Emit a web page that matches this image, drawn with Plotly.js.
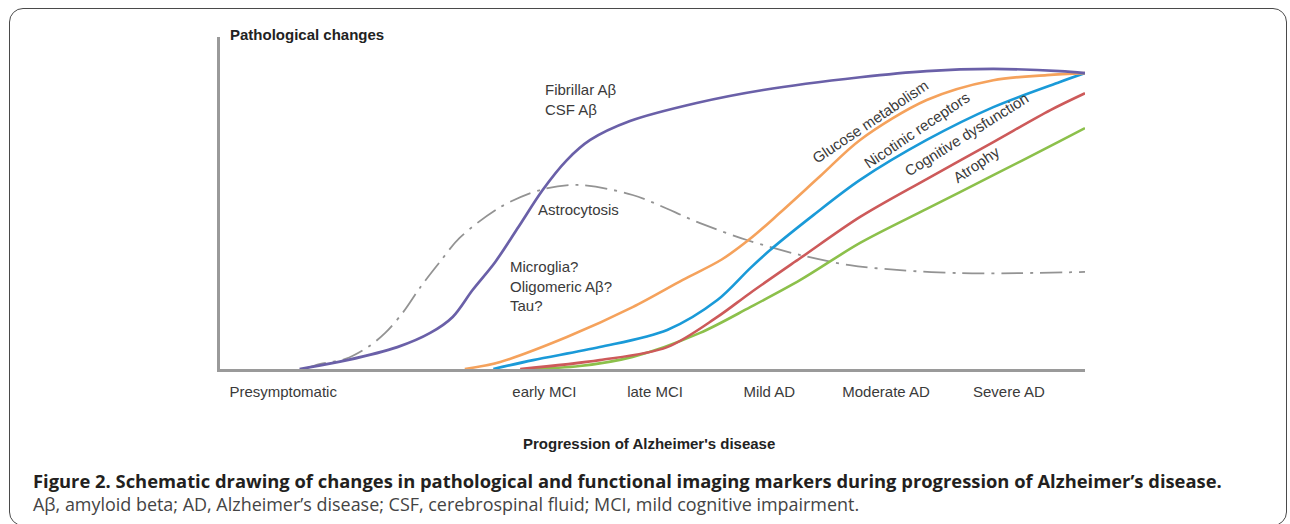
<!DOCTYPE html>
<html><head><meta charset="utf-8">
<script src="https://cdn.plot.ly/plotly-3.0.1.min.js"></script>
<style>
html,body{margin:0;padding:0;background:#fff;width:1290px;height:524px;overflow:hidden;}
#frame{position:absolute;left:9px;top:8px;width:1278px;height:518px;border:1px solid #4a4a4a;border-radius:14px;box-sizing:border-box;}
#chart{position:absolute;left:0;top:0;width:1290px;height:524px;}
</style></head><body>
<div id="frame"></div>
<div id="chart"></div>
<script>
// ---- data (x: disease progression, 0-100; y: degree of change, 0-100) ----
const fibrillarX = [9.2, 14.7, 20.5, 24.3, 26.9, 29.2, 31.8, 34.5, 37.3, 40.1, 42.8, 47.4, 55.1, 62.8, 74.0, 81.7, 89.4, 97.1, 100];
const fibrillarY = [0, 3.0, 7.4, 12.2, 17.6, 26.7, 36.1, 48.0, 60.5, 70.6, 77.4, 83.8, 89.9, 94.3, 98.6, 100.7, 101.4, 100.7, 100];

const astroX = [9.8, 11.6, 14.5, 17.1, 19.1, 21.2, 23.1, 25.4, 27.7, 32.4, 37.0, 41.3, 47.7, 55.5, 60.9, 67.1, 72.8, 78.6, 85.5, 92.5, 100];
const astroY = [0, 1.7, 3.4, 7.4, 12.2, 19.3, 27.4, 36.1, 44.3, 54.7, 60.5, 62.2, 58.8, 49.3, 43.6, 38.5, 35.1, 33.4, 32.4, 32.4, 32.8];

const glucoseX = [28.3, 32.4, 40.1, 47.7, 53.5, 58.0, 61.5, 64.7, 69.4, 74.0, 81.7, 89.4, 95.6, 100];
const glucoseY = [0, 2.4, 10.8, 20.9, 30.1, 37.0, 44.5, 52.7, 65.2, 77.4, 90.9, 97.6, 99.3, 100];

const nicotinicX = [31.6, 36.2, 43.9, 51.7, 57.5, 61.3, 63.6, 68.6, 74.0, 81.7, 89.4, 97.1, 100];
const nicotinicY = [0, 3.0, 7.4, 13.2, 23.3, 34.1, 40.2, 52.0, 63.9, 77.4, 88.5, 97.0, 100];

const cognitiveX = [34.7, 43.9, 51.7, 57.5, 61.3, 67.1, 74.0, 81.7, 89.4, 96.0, 100];
const cognitiveY = [0, 3.0, 7.4, 17.6, 25.7, 37.5, 51.4, 64.2, 76.7, 87.5, 93.2];

const atrophyX = [35.5, 41.6, 47.7, 55.5, 61.3, 67.1, 74.0, 81.7, 89.4, 97.1, 100];
const atrophyY = [0, 1.0, 4.1, 12.2, 20.9, 30.1, 42.6, 54.1, 65.5, 77.0, 81.4];

const tickVals = [7.3, 37.5, 50.3, 63.5, 77.0, 91.2];
const tickText = ["Presymptomatic", "early MCI", "late MCI", "Mild AD", "Moderate AD", "Severe AD"];

const captionTitle = "Figure 2. Schematic drawing of changes in pathological and functional imaging markers during progression of Alzheimer\u2019s disease.";
const captionBody = "A\u03b2, amyloid beta; AD, Alzheimer\u2019s disease; CSF, cerebrospinal fluid; MCI, mild cognitive impairment.";

// ---- layout helpers ----
const W = 1290, H = 524, L = 220, R = 1085, T = 37, B = 369;
const px = p => (p - L) / (R - L);
const py = p => (B - p) / (B - T);

function fit(text, family, weight, target) {
  const c = document.createElement('canvas').getContext('2d');
  c.font = weight + ' 100px ' + family;
  return 100 * target / c.measureText(text).width;
}
const capFam = "'Open Sans'";
const capSize1 = fit(captionTitle, capFam, 700, 1190);
const capSize2 = fit(captionBody, capFam, 400, 827);

function curve(x, y, color, width, dash) {
  return {x: x, y: y, type: 'scatter', mode: 'lines', hoverinfo: 'skip',
    line: {color: color, width: width, shape: 'spline', smoothing: 0.9, dash: dash || 'solid'}};
}

const traces = [
  curve(astroX, astroY, '#939393', 1.8, '22px,7px,3px,7px'),
  curve(atrophyX, atrophyY, '#8cc04b', 2.6),
  curve(cognitiveX, cognitiveY, '#cd5a5a', 2.6),
  curve(nicotinicX, nicotinicY, '#1a9ad8', 2.6),
  curve(glucoseX, glucoseY, '#f5a25c', 2.6),
  curve(fibrillarX, fibrillarY, '#6a60a8', 2.7)
];

const lblFont = {family: 'Liberation Sans, Arial, sans-serif', size: 15, color: '#3a3a3a'};
function lbl(text, x, y, opts) {
  return Object.assign({text: text, xref: 'paper', yref: 'paper', x: px(x), y: py(y),
    showarrow: false, xanchor: 'left', yanchor: 'middle', align: 'left', font: lblFont}, opts || {});
}
const boldFont = {family: 'Liberation Sans, Arial, sans-serif', size: 15, color: '#222', weight: 700};

const annotations = [
  lbl('Fibrillar A\u03b2<br>CSF A\u03b2', 543, 99),
  lbl('Astrocytosis', 536, 209),
  lbl('Microglia?<br>Oligomeric A\u03b2?<br>Tau?', 508, 286),
  lbl('Glucose metabolism', 870, 121, {xanchor: 'center', textangle: -34}),
  lbl('Nicotinic receptors', 916, 130, {xanchor: 'center', textangle: -34}),
  lbl('Cognitive dysfunction', 966, 134, {xanchor: 'center', textangle: -32}),
  lbl('Atrophy', 976, 164, {xanchor: 'center', textangle: -34}),
  lbl('Pathological changes', 228, 35, {font: boldFont}),
  lbl("Progression of Alzheimer's disease", 649, 443, {xanchor: 'center', font: boldFont}),
  lbl(captionTitle, 31, 480, {font: {family: capFam, size: capSize1, color: '#231f20', weight: 700}}),
  lbl(captionBody, 31, 504, {font: {family: capFam, size: capSize2, color: '#444', weight: 400}})
];

const layout = {
  width: W, height: H,
  margin: {l: L, r: W - R, t: T, b: H - B, pad: 0},
  paper_bgcolor: 'rgba(0,0,0,0)', plot_bgcolor: 'rgba(0,0,0,0)',
  showlegend: false,
  font: {family: 'Liberation Sans, Arial, sans-serif', color: '#333'},
  xaxis: {range: [0, 100], showgrid: false, zeroline: false, showline: true, linecolor: '#9a9a9a', linewidth: 3,
    tickmode: 'array', tickvals: tickVals, ticktext: tickText, ticks: '', ticklabelstandoff: 7,
    tickfont: {size: 15, color: '#3a3a3a'}, fixedrange: true},
  yaxis: {range: [0, 112.2], showgrid: false, zeroline: false, showline: true, linecolor: '#9a9a9a', linewidth: 3,
    showticklabels: false, ticks: '', fixedrange: true},
  annotations: annotations
};

Plotly.newPlot('chart', traces, layout, {staticPlot: true, displayModeBar: false});
</script></body></html>
